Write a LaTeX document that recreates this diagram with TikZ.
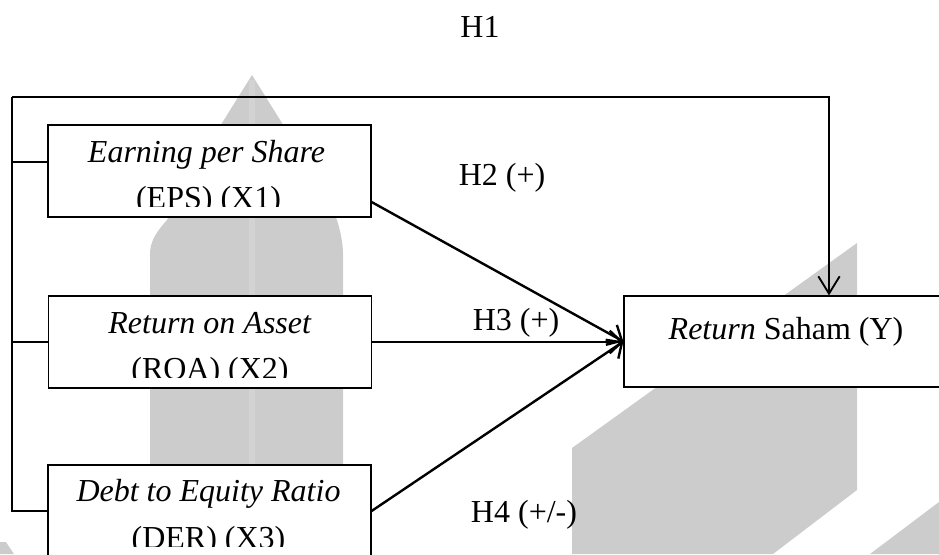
\documentclass[tikz,border=0pt]{standalone}
\usepackage{fontspec}
\setmainfont{Liberation Serif}
\usetikzlibrary{arrows.meta,calc}
\definecolor{wmgray}{RGB}{204,204,204}
\definecolor{wmlight}{RGB}{211,211,211}

\tikzset{
  varbox/.style={draw=black, fill=white, line width=0.9pt, minimum width=242.25pt, minimum height=69pt, inner sep=0pt},
  boxtext/.style={anchor=base, inner sep=0pt, font=\fontsize{24}{28}\selectfont},
  hypo/.style={anchor=base, inner sep=0pt, font=\fontsize{24}{28}\selectfont},
  effect/.style={line width=1.8pt, -{Straight Barb[length=9pt,width=17pt]}},
  busline/.style={line width=1pt},
}

\begin{document}
\begin{tikzpicture}[x=0.75pt,y=0.75pt,yscale=-1,xscale=1]
\useasboundingbox (0,0) rectangle (939,554);
\clip (0,0) rectangle (939,554);

%Watermark shapes
\fill[wmgray] (252,75) -- (222,123) -- (167,220) .. controls (156,232) and (150,242) .. (150,254) -- (150,554) -- (343,554) -- (343,254) .. controls (343,242) and (340,230) .. (337,220) -- (282,123) -- cycle;
\fill[wmlight] (249,80) rectangle (255,554);
\fill[wmgray] (572,448) -- (857,243) -- (857,490) -- (773,554) -- (572,554) -- cycle;
\fill[wmgray] (870,554) -- (939,502) -- (939,554) -- cycle;
\fill[wmgray] (0,542) -- (6,542) -- (14,554) -- (0,554) -- cycle;

%Shape: Rectangles
\node[varbox] (eps) at (209.5,171) {};
\node[varbox] (roa) at (210,342) {};
\node[varbox] (der) at (209.5,511) {};
\node[varbox, minimum width=244.5pt, minimum height=68.25pt] (ret) at (787,341.5) {};

% Text Node
\begin{scope}
\clip (eps.north west) rectangle ($(eps.north east)+(0,82)$);
\node[boxtext] (epsa) at ($(eps.north)+(-3,38)$) {\textit{Earning per Share}};
\node[boxtext] (epsb) at ($(eps.north)+(-1,84)$) {(EPS) (X1)};
\end{scope}
% Text Node
\begin{scope}
\clip (roa.north west) rectangle ($(roa.north east)+(0,82)$);
\node[boxtext] (roaa) at ($(roa.north)+(0,38)$) {\textit{Return on Asset}};
\node[boxtext] (roab) at ($(roa.north)+(0,84)$) {(ROA) (X2)};
\end{scope}
% Text Node
\begin{scope}
\clip (der.north west) rectangle ($(der.north east)+(0,82)$);
\node[boxtext] (dera) at ($(der.north)+(-1,37)$) {\textit{Debt to Equity Ratio}};
\node[boxtext] (derb) at ($(der.north)+(-1,84)$) {(DER) (X3)};
\end{scope}
% Text Node
\node[boxtext] (reta) at ($(ret.north)+(-1,44)$) {\textit{Return} Saham (Y)};

% Text Node
\node[hypo] (h1) at (480,37) {H1};
\node[hypo] (h2) at (502,185) {H2 (+)};
\node[hypo] (h3) at (516,330) {H3 (+)};
\node[hypo] (h4) at (524,522) {H4 (+/-)};

%Straight Lines
\coordinate (bustop) at (12,97);
\coordinate (h1turn) at (829,97);
\coordinate (epstie) at ($(eps.west)+(0,-9)$);
\coordinate (epsout) at ($(eps.east)+(0,31)$);
\draw[busline] (bustop) -- (bustop |- der.west) -- (der.west);
\draw[busline] (bustop |- epstie) -- (epstie);
\draw[busline] (bustop |- roa.west) -- (roa.west);
\draw[line width=1.4pt, -{Straight Barb[length=13pt,width=16pt]}] (bustop) -- (h1turn) -- (h1turn |- ret.north);
\draw[effect] (epsout) -- (ret.west);
\draw[effect] (roa.east) -- (roa.east -| ret.west);
\draw[effect] (der.east) -- (ret.west);

\end{tikzpicture}
\end{document}
